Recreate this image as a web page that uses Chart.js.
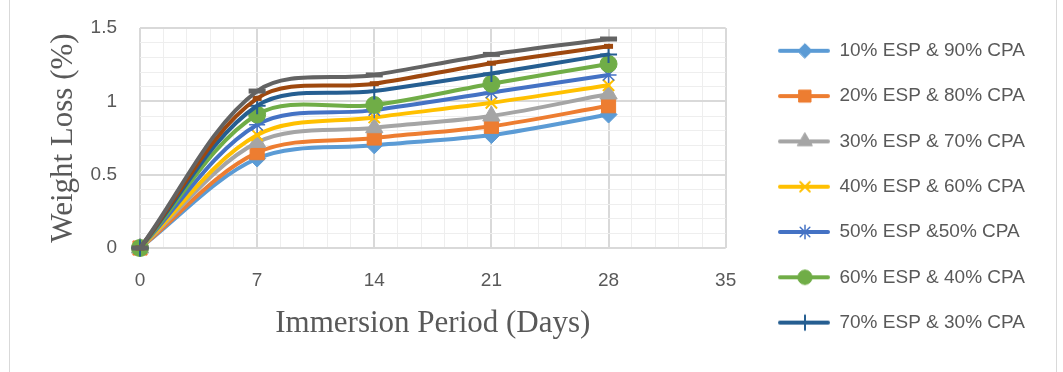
<!DOCTYPE html>
<html><head><meta charset="utf-8">
<script src="https://cdn.jsdelivr.net/npm/chart.js@4.4.0/dist/chart.umd.min.js"></script>
<style>
html,body{margin:0;padding:0;background:#fff;}
#wrap{position:relative;width:1063px;height:372px;overflow:hidden;background:#fff;}
#c{position:absolute;left:0;top:0;}
.bl{position:absolute;top:0;width:1px;height:372px;background:#d9d9d9;}
</style></head><body>
<div id="wrap"><div class="bl" style="left:9px"></div><div class="bl" style="left:1056px"></div><canvas id="c" width="1063" height="372"></canvas></div>
<script>
// ---- data ----
const days = [0, 7, 14, 21, 28];
const xTickLabels = ['0', '7', '14', '21', '28', '35'];
const yTickLabels = ['0', '0.5', '1', '1.5'];
const seriesNames = [
  '10% ESP & 90% CPA', '20% ESP & 80% CPA', '30% ESP & 70% CPA',
  '40% ESP & 60% CPA', '50% ESP &50% CPA', '60% ESP & 40% CPA',
  '70% ESP & 30% CPA', '80% ESP & 20% CPA', '90% ESP & 10% CPA'
];
const s10 = [0, 0.61, 0.70, 0.77, 0.91];
const s20 = [0, 0.65, 0.75, 0.83, 0.97];
const s30 = [0, 0.72, 0.82, 0.90, 1.05];
const s40 = [0, 0.77, 0.89, 0.99, 1.11];
const s50 = [0, 0.84, 0.94, 1.06, 1.18];
const s60 = [0, 0.91, 0.975, 1.12, 1.255];
const s70 = [0, 0.97, 1.07, 1.19, 1.32];
const s80 = [0, 1.02, 1.12, 1.26, 1.375];
const s90 = [0, 1.07, 1.18, 1.32, 1.425];
const seriesValues = [s10, s20, s30, s40, s50, s60, s70, s80, s90];
const legendCount = 7;

// ---- styles ----
const colors = ['#5B9BD5', '#ED7D31', '#A5A5A5', '#FFC000', '#4472C4', '#70AD47', '#255E91', '#9E480E', '#636363'];
const markers = [
  {s: 'rectRot', r: 8.5, w: 1}, {s: 'rect', r: 10, w: 1}, {s: 'triangle', r: 10, w: 1},
  {s: 'crossRot', r: 8, w: 2}, {s: 'star', r: 8, w: 1.5}, {s: 'circle', r: 8.5, w: 1},
  {s: 'cross', r: 8.5, w: 2}, {s: 'line', r: 4.5, w: 5}, {s: 'line', r: 8.5, w: 5}
];
const textColor = '#595959';
const sansFont = '"Liberation Sans", Arial, sans-serif';
const serifFont = '"Liberation Serif", "Times New Roman", serif';

// target plot area (px)
const PLOT = {left: 140, top: 28, right: 726, bottom: 248};

const datasets = seriesNames.map((name, i) => ({
  label: name,
  data: days.map((d, j) => ({x: d, y: seriesValues[i][j]})),
  borderColor: colors[i], backgroundColor: colors[i], borderWidth: 4,
  borderCapStyle: 'round', borderJoinStyle: 'round',
  pointStyle: markers[i].s, pointRadius: markers[i].r, pointHoverRadius: markers[i].r,
  pointBorderWidth: markers[i].w, pointBackgroundColor: colors[i], pointBorderColor: colors[i],
  tension: 0.33, fill: false, clip: false, order: 20 - i
}));

const ICON_W = 78, LEG_FONT = 19, LEG_PAD = 26.3;
function makeIcon(i) {
  const c = document.createElement('canvas');
  c.width = ICON_W; c.height = 22;
  const g = c.getContext('2d');
  g.strokeStyle = colors[i]; g.lineWidth = 4; g.lineCap = 'round';
  g.beginPath(); g.moveTo(28, 11); g.lineTo(ICON_W - 2, 11); g.stroke();
  g.fillStyle = colors[i]; g.strokeStyle = colors[i]; g.lineWidth = markers[i].w;
  Chart.helpers.drawPoint(g, {pointStyle: markers[i].s, radius: markers[i].r * 0.85, borderWidth: markers[i].w, rotation: 0}, 53, 11);
  return c;
}
const icons = seriesNames.map((n, i) => makeIcon(i));
function isMajorX(v) { return xTickLabels.includes(String(v)); }
function isMajorY(v) { return yTickLabels.includes(String(v)); }

let xAxisHeight = 372 - PLOT.bottom;
const chart = new Chart(document.getElementById('c').getContext('2d'), {
  type: 'line',
  data: {datasets},
  options: {
    responsive: false, animation: false, events: [],
    layout: {padding: {left: 0, top: 15, right: 28, bottom: 0}},
    plugins: {
      tooltip: {enabled: false},
      title: {display: true, text: '', fullSize: false, position: 'top', font: {size: 10, lineHeight: 1}, padding: {top: 0, bottom: 3}},
      legend: {
        display: true, position: 'right', align: 'start', maxWidth: 420,
        labels: {
          usePointStyle: true, pointStyleWidth: ICON_W, padding: LEG_PAD, color: textColor,
          font: {family: sansFont, size: LEG_FONT},
          generateLabels: () => seriesNames.slice(0, legendCount).map((n, i) => ({
            text: n, pointStyle: icons[i], fillStyle: colors[i], strokeStyle: colors[i],
            lineWidth: 0, hidden: false, datasetIndex: i, fontColor: textColor
          }))
        }
      }
    },
    scales: {
      x: {
        type: 'linear', min: 0, max: 35,
        ticks: {stepSize: 1.4, autoSkip: false, maxRotation: 0, padding: 21, color: textColor,
          font: {family: sansFont, size: 19}, callback: v => isMajorX(v) ? String(v) : ''},
        grid: {drawTicks: false,
          color: c => (c.tick && isMajorX(c.tick.value)) ? '#d9d9d9' : '#eeeeee',
          lineWidth: c => (c.tick && isMajorX(c.tick.value)) ? 2 : 1},
        border: {display: false},
        title: {display: true, text: 'Immersion Period (Days)', color: textColor,
          font: {family: serifFont, size: 31}, padding: {top: 0, bottom: 30}},
        afterFit: s => { s.height = xAxisHeight; s.paddingLeft = 0; s.paddingRight = 0; }
      },
      y: {
        min: 0, max: 1.5,
        ticks: {stepSize: 0.1, autoSkip: false, padding: 23, color: textColor,
          font: {family: sansFont, size: 19}, callback: v => isMajorY(v) ? String(v) : ''},
        grid: {drawTicks: false,
          color: c => (c.tick && isMajorY(c.tick.value)) ? '#d9d9d9' : '#eeeeee',
          lineWidth: c => (c.tick && isMajorY(c.tick.value)) ? 2 : 1},
        border: {display: false},
        title: {display: true, text: 'Weight Loss (%)', color: textColor,
          font: {family: serifFont, size: 31}, padding: {top: 45, bottom: 0}},
        afterFit: s => { s.width = PLOT.left; s.paddingTop = 0; s.paddingBottom = 0; }
      }
    }
  }
});
// keep the plot area where the reference has it
for (let k = 0; k < 4; k++) {
  const ca = chart.chartArea;
  const dr = ca.right - PLOT.right, dt = ca.top - PLOT.top, db = ca.bottom - PLOT.bottom;
  if (Math.abs(dr) <= 0.5 && Math.abs(dt) <= 0.5 && Math.abs(db) <= 0.5) break;
  chart.options.layout.padding.right += dr;
  chart.options.plugins.title.padding.bottom = Math.max(0, chart.options.plugins.title.padding.bottom - dt);
  xAxisHeight += db;
  chart.update('none');
}
</script>
</body></html>
